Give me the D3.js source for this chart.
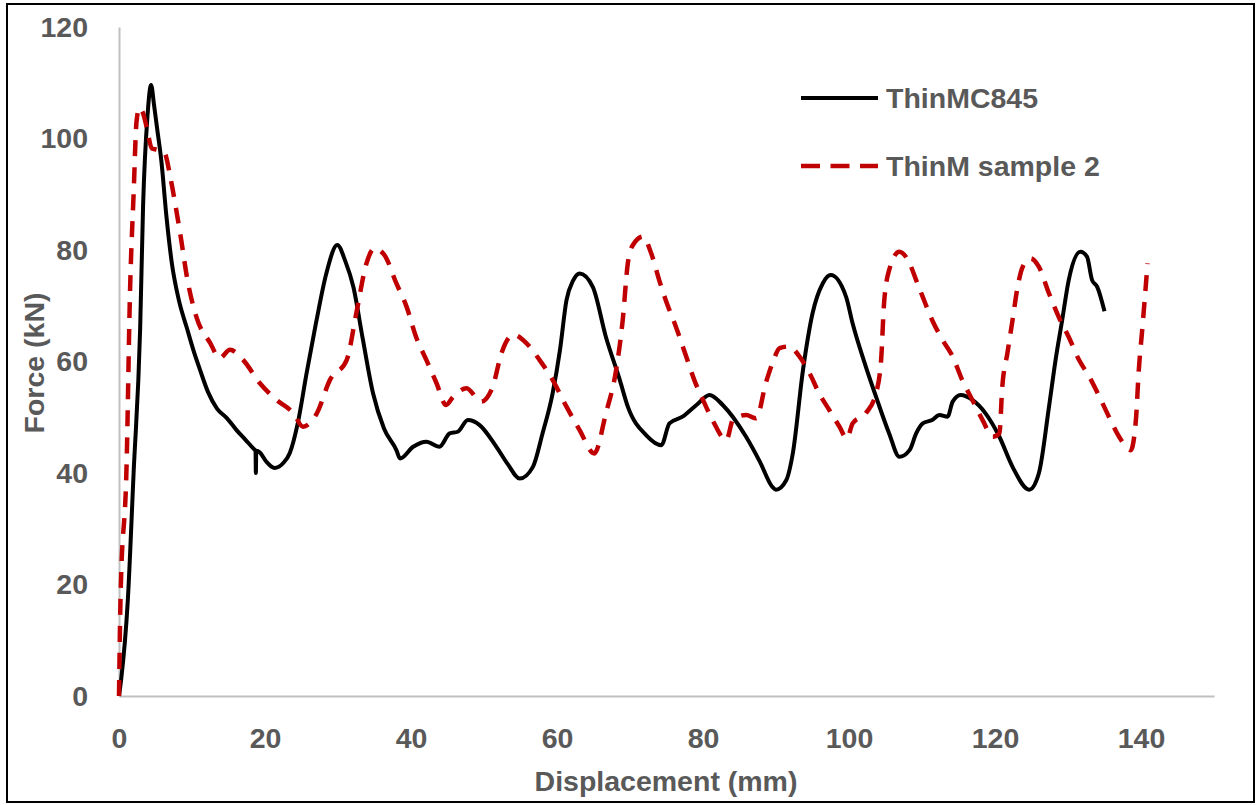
<!DOCTYPE html>
<html>
<head>
<meta charset="utf-8">
<script src="https://cdn.jsdelivr.net/npm/d3@7"></script>
<style>
	body { margin: 0; background: #fff; }
	text { font-family: "Liberation Sans", Arial, sans-serif; font-weight: bold; fill: #595959; }
</style>
</head>
<body>
<div id="visuals"></div>
<script>
var width = 1259;
var height = 805;

// ThinMC845 (solid black)
var thinmc_disp = [0, 0.3, 1.2, 2.0, 2.9, 3.3, 3.9, 4.4, 4.8, 5.2, 5.8, 6.5, 7.2, 8.2, 9.3, 10.2, 11.1, 12.2,
	13.4, 14.8, 16.1, 17.3, 18.4, 18.7, 18.75, 18.8, 19.2, 20.2, 21.3, 22.5, 23.4, 24.5, 25.7, 27, 28.4, 29.9, 31, 32.1,
	33.4, 34.8, 36.3, 38.0, 38.5, 40.3, 42.1, 43.9, 45.3, 46.4, 47.8, 49.4, 51.7, 53.3, 54.9, 56.7, 58, 59.4, 60.4, 61.3,
	62.2, 63.1, 64.9, 66.7, 68.6, 69.7, 72.2, 74.3, 75.4, 77.2, 79.1, 80.9, 82.7, 85.9, 87.8, 89.5, 90.0, 91.4, 92.3, 93.7,
	95.0, 96.4, 97.5, 99.6, 100.5, 102.3, 103.7, 105.5, 106.9, 108.3, 109.2, 110.1, 111.4, 112.4, 113.5, 114.2, 115.3, 116.9, 118.7, 120.6,
	122.4, 124.7, 126.0, 127.4, 128.3, 129.2, 130.1, 131.7, 132.6, 133.3, 134.0, 135.0];
var thinmc_force = [0, 3, 17, 40, 66, 88, 104, 109.6, 106, 102, 96, 86, 78, 71, 66, 62, 58.5, 54.5,
	51.6, 49.8, 47.7, 46, 44.4, 44, 40, 44, 43.8, 42, 40.9, 41.8, 43.6, 49, 57.9, 67, 75.8, 80.9, 78, 73.4,
	64, 54.3, 48, 44.1, 42.6, 44.7, 45.6, 44.7, 47.1, 47.4, 49.5, 48.6, 44.7, 41.5, 39.0, 41.1, 47, 54.3, 62, 71.0,
	74.5, 75.8, 73.4, 64.4, 56.7, 51.9, 46.8, 45.0, 48.9, 50.1, 52.2, 54.0, 52.2, 46.5, 42, 37.5, 37.0, 38.7, 43.5, 58.5,
	68.6, 74.0, 75.5, 71.6, 66.8, 59.1, 53.7, 47.1, 42.9, 44.1, 47.1, 48.9, 49.5, 50.4, 50.1, 52.8, 54.0, 53.1, 50.7, 46.5,
	41.1, 37.0, 39.9, 51.9, 60.3, 67.4, 74.6, 79.7, 78.8, 74.6, 73.4, 69.0];

// ThinM sample 2 (red dashed)
var sample2_disp = [0, 0.2, 1.05, 1.5, 2.0, 2.4, 2.8, 3.3, 3.8, 4.5, 5.2, 6.2, 7.1, 7.8, 8.5, 9.3, 10.6, 12.5, 13.8, 15.2,
	17.0, 19.3, 21.6, 23.9, 25.2, 27.1, 28.9, 31.2, 32.5, 33.9, 35.0, 36.4, 38.0, 39.4, 40.7, 42.1, 43.5, 44.8, 45.8, 47.6,
	49.6, 51.2, 52.4, 54.0, 55.8, 57.6, 59.4, 61.3, 63.1, 65.1, 66.7, 68.1, 69.0, 69.7, 70.4, 71.8, 72.9, 74.0, 74.9, 76.3,
	77.7, 78.8, 80.0, 81.3, 83.2, 84.1, 85.9, 87.3, 88.6, 89.6, 90.5, 91.8, 93.2, 94.6, 95.9, 97.3, 98.7, 99.7, 100.5, 102.3,
	103.7, 104.4, 104.8, 105.5, 106.9, 108.3, 109.2, 110.1, 111.4, 112.8, 114.2, 115.5, 116.9, 118.3, 119.7, 120.6, 121.0, 121.7, 122.4, 123.1,
	123.8, 124.9, 126.0, 127.4, 128.8, 130.1, 131.5, 132.9, 134.3, 135.6, 137.0, 138.6, 139.3, 139.7, 140.2, 140.9];
var sample2_force = [0, 17, 42, 72, 90, 103, 105.5, 104.5, 102, 98.2, 98, 97.5, 92.6, 87.5, 82, 75.2, 68.0, 63.3, 60.6, 62.1,
	60.3, 56.1, 53.1, 50.7, 48.3, 50.7, 56.7, 60.3, 68.6, 77.6, 80.3, 79, 74.0, 69.8, 64.4, 60.3, 56.1, 52.2, 53.7, 55.2,
	52.8, 55.5, 61.5, 64.8, 63.3, 60.3, 56.7, 51.9, 47.7, 43.5, 50.7, 58.5, 67.4, 77.6, 80.9, 82.4, 79.4, 74.6, 71.0, 66.2,
	60.9, 56.7, 53.1, 49.5, 45.9, 49.5, 50.4, 49.8, 56.1, 60, 62.4, 62.7, 60.9, 57.9, 54.3, 51.3, 48.3, 46.2, 48.9, 50.7,
	54.3, 60.3, 70.4, 76.4, 79.7, 77.6, 74.6, 71.6, 67.4, 63.9, 60.9, 56.7, 53.1, 49.5, 46.5, 47.1, 55.5, 61.5, 67.4, 73.4,
	77.0, 78.5, 77.0, 72.2, 67.8, 64.4, 60.3, 57.3, 53.7, 50.1, 46.5, 44.1, 49.5, 58.5, 66.2, 77.6];

var x_ticks = [0, 20, 40, 60, 80, 100, 120, 140];
var y_ticks = [0, 20, 40, 60, 80, 100, 120];
var series_names = ["ThinMC845", "ThinM sample 2"];

var svg_canvas = d3.select("#visuals").append("svg")
	.attr("width", width)
	.attr("height", height);

// outer frame
svg_canvas.append("rect")
	.attr("x", 7).attr("y", 4)
	.attr("width", 1247).attr("height", 798)
	.attr("fill", "#fff")
	.attr("stroke", "#000")
	.attr("stroke-width", 2);

var x = d3.scaleLinear().domain([0, 150]).range([119, 1214]);
var y = d3.scaleLinear().domain([0, 120]).range([696, 27]);

var x_axis = svg_canvas.append("g")
	.attr("transform", "translate(0," + y(0) + ")")
	.call(d3.axisBottom(x).tickValues(x_ticks).tickSize(0).tickSizeOuter(0).tickPadding(32));

var y_axis = svg_canvas.append("g")
	.attr("transform", "translate(" + x(0) + ",0)")
	.call(d3.axisLeft(y).tickValues(y_ticks).tickSize(0).tickSizeOuter(0).tickPadding(31));

svg_canvas.selectAll(".domain")
	.attr("stroke", "#c0c0c0")
	.attr("stroke-width", 2);

svg_canvas.selectAll(".tick text")
	.attr("font-family", null)
	.style("font-size", "28.5px")
	.style("fill", "#595959");

// axis titles
svg_canvas.append("text")
	.attr("x", 666).attr("y", 791)
	.attr("text-anchor", "middle")
	.style("font-size", "28.5px")
	.text("Displacement (mm)");

svg_canvas.append("text")
	.attr("transform", "translate(44,363) rotate(-90)")
	.attr("text-anchor", "middle")
	.style("font-size", "28.5px")
	.text("Force (kN)");

// smooth lines like the excel chart
var line = d3.line()
	.curve(d3.curveMonotoneX)
	.x(function(d) { return x(d[0]); })
	.y(function(d) { return y(d[1]); });

var thinmc = thinmc_disp.map(function(v, i) { return [v, thinmc_force[i]]; });
var sample2 = sample2_disp.map(function(v, i) { return [v, sample2_force[i]]; });

svg_canvas.append("path")
	.datum(thinmc)
	.attr("d", line)
	.attr("fill", "none")
	.attr("stroke", "#000")
	.attr("stroke-width", 4)
	.attr("stroke-linejoin", "round");

svg_canvas.append("path")
	.datum(sample2)
	.attr("d", line)
	.attr("fill", "none")
	.attr("stroke", "#c00000")
	.attr("stroke-width", 4.5)
	.attr("stroke-dasharray", "16,11");

// legend
var legend = svg_canvas.append("g").attr("class", "legend");
var legend_y = [98, 166];
var legend_style = [{ c: "#000", dash: null, w: 4 }, { c: "#c00000", dash: "19,10.5", w: 4.5 }];

series_names.forEach(function(name, i) {
	legend.append("line")
		.attr("x1", 801).attr("x2", 878)
		.attr("y1", legend_y[i]).attr("y2", legend_y[i])
		.attr("stroke", legend_style[i].c)
		.attr("stroke-width", legend_style[i].w)
		.attr("stroke-dasharray", legend_style[i].dash);
	legend.append("text")
		.attr("x", 886).attr("y", legend_y[i] + 10)
		.style("font-size", "28.5px")
		.text(name);
});
</script>
</body>
</html>
